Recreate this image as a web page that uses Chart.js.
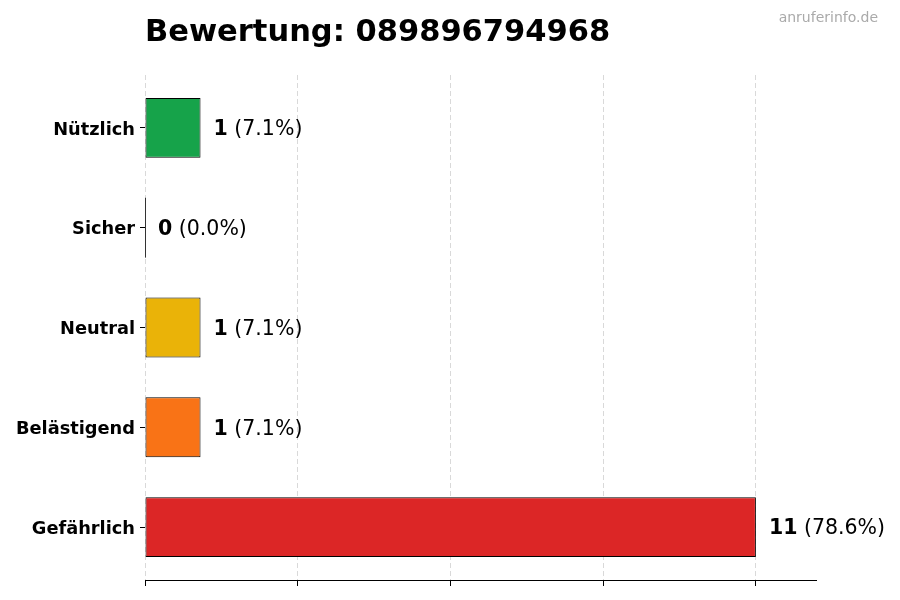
<!DOCTYPE html>
<html>
<head>
<meta charset="utf-8">
<script src="https://cdn.jsdelivr.net/npm/chart.js@4"></script>
<style>
  html, body { margin: 0; padding: 0; background: #fff; }
  #wrap { width: 900px; height: 600px; }
</style>
</head>
<body>
<div id="wrap"><canvas id="ratingChart" width="900" height="600"></canvas></div>
<script>
// chart data
const categories = ['Nützlich', 'Sicher', 'Neutral', 'Belästigend', 'Gefährlich'];
const counts = [1, 0, 1, 1, 11];
const percents = ['7.1%', '0.0%', '7.1%', '7.1%', '78.6%'];
const barColors = ['#16a34a', '#6b7280', '#eab308', '#f97316', '#dc2626'];
const xTicks = [0, 2.75, 5.5, 8.25, 11];
const xMax = 12.1;
const chartTitle = 'Bewertung: 089896794968';
const watermark = 'anruferinfo.de';

const FONT = "'DejaVu Sans', sans-serif";

// draws title, watermark, axis line and the value labels next to each bar
const labelPlugin = {
    id: 'labelPlugin',
    afterDatasetsDraw(chart) {
        const ctx = chart.ctx;
        const area = chart.chartArea;
        ctx.save();

        ctx.fillStyle = '#000';
        ctx.font = 'bold 30.5px ' + FONT;
        ctx.textBaseline = 'alphabetic';
        ctx.textAlign = 'left';
        ctx.fillText(chartTitle, area.left, 41);

        ctx.fillStyle = '#aaaaaa';
        ctx.font = '14px ' + FONT;
        ctx.textAlign = 'right';
        ctx.fillText(watermark, 878, 22);

        // solid bottom axis line
        ctx.strokeStyle = '#000';
        ctx.lineWidth = 1;
        ctx.beginPath();
        ctx.moveTo(area.left, area.bottom + 0.5);
        ctx.lineTo(area.right, area.bottom + 0.5);
        ctx.stroke();

        const meta = chart.getDatasetMeta(0);
        meta.data.forEach(function (bar, i) {
            // zero bars still get a thin edge line like the reference
            if (counts[i] === 0) {
                ctx.strokeStyle = '#333';
                ctx.beginPath();
                ctx.moveTo(bar.x + 0.5, bar.y - bar.height / 2);
                ctx.lineTo(bar.x + 0.5, bar.y + bar.height / 2);
                ctx.stroke();
            }
            let x = bar.x + 13;
            const y = bar.y + 2;
            ctx.textAlign = 'left';
            ctx.textBaseline = 'middle';
            ctx.fillStyle = '#000';
            ctx.font = 'bold 20.5px ' + FONT;
            const num = String(counts[i]);
            ctx.fillText(num, x, y);
            x += ctx.measureText(num).width;
            ctx.font = '20.5px ' + FONT;
            ctx.fillText(' (' + percents[i] + ')', x, y);
        });
        ctx.restore();
    }
};

const ctx = document.getElementById('ratingChart').getContext('2d');
const ratingChart = new Chart(ctx, {
    type: 'bar',
    data: {
        datasets: [{
            data: counts.map((c, i) => ({ x: c, y: i })),
            backgroundColor: barColors,
            borderColor: '#000',
            borderWidth: 1,
            borderSkipped: false,
            barPercentage: 0.6,
            categoryPercentage: 1.0
        }]
    },
    options: {
        indexAxis: 'y',
        responsive: false,
        animation: false,
        devicePixelRatio: 1,
        layout: {
            padding: { top: 75, right: 83, bottom: 14, left: 0 }
        },
        plugins: {
            legend: { display: false },
            tooltip: { enabled: false },
            title: { display: false }
        },
        scales: {
            x: {
                min: 0,
                max: xMax,
                afterBuildTicks: function (scale) {
                    scale.ticks = xTicks.map(v => ({ value: v }));
                },
                ticks: { display: false },
                grid: {
                    color: '#d9d9d9',
                    lineWidth: 1,
                    drawTicks: true,
                    tickLength: 6,
                    tickColor: '#000',
                    tickBorderDash: []
                },
                border: { display: false, dash: [5, 3] }
            },
            y: {
                type: 'linear',
                offset: false,
                min: -0.53,
                max: categories.length - 1 + 0.53,
                reverse: true,
                afterBuildTicks: function (scale) {
                    scale.ticks = categories.map((c, i) => ({ value: i }));
                },
                afterFit: function (scale) { scale.width = 145; },
                ticks: {
                    color: '#000',
                    padding: 5,
                    labelOffset: 2,
                    font: { family: FONT, size: 17.8, weight: 'bold' },
                    callback: function (value) { return categories[value]; }
                },
                grid: {
                    offset: false,
                    drawOnChartArea: false,
                    drawTicks: true,
                    tickLength: 5,
                    tickColor: '#000'
                },
                border: { display: false }
            }
        }
    },
    plugins: [labelPlugin]
});
</script>
</body>
</html>
